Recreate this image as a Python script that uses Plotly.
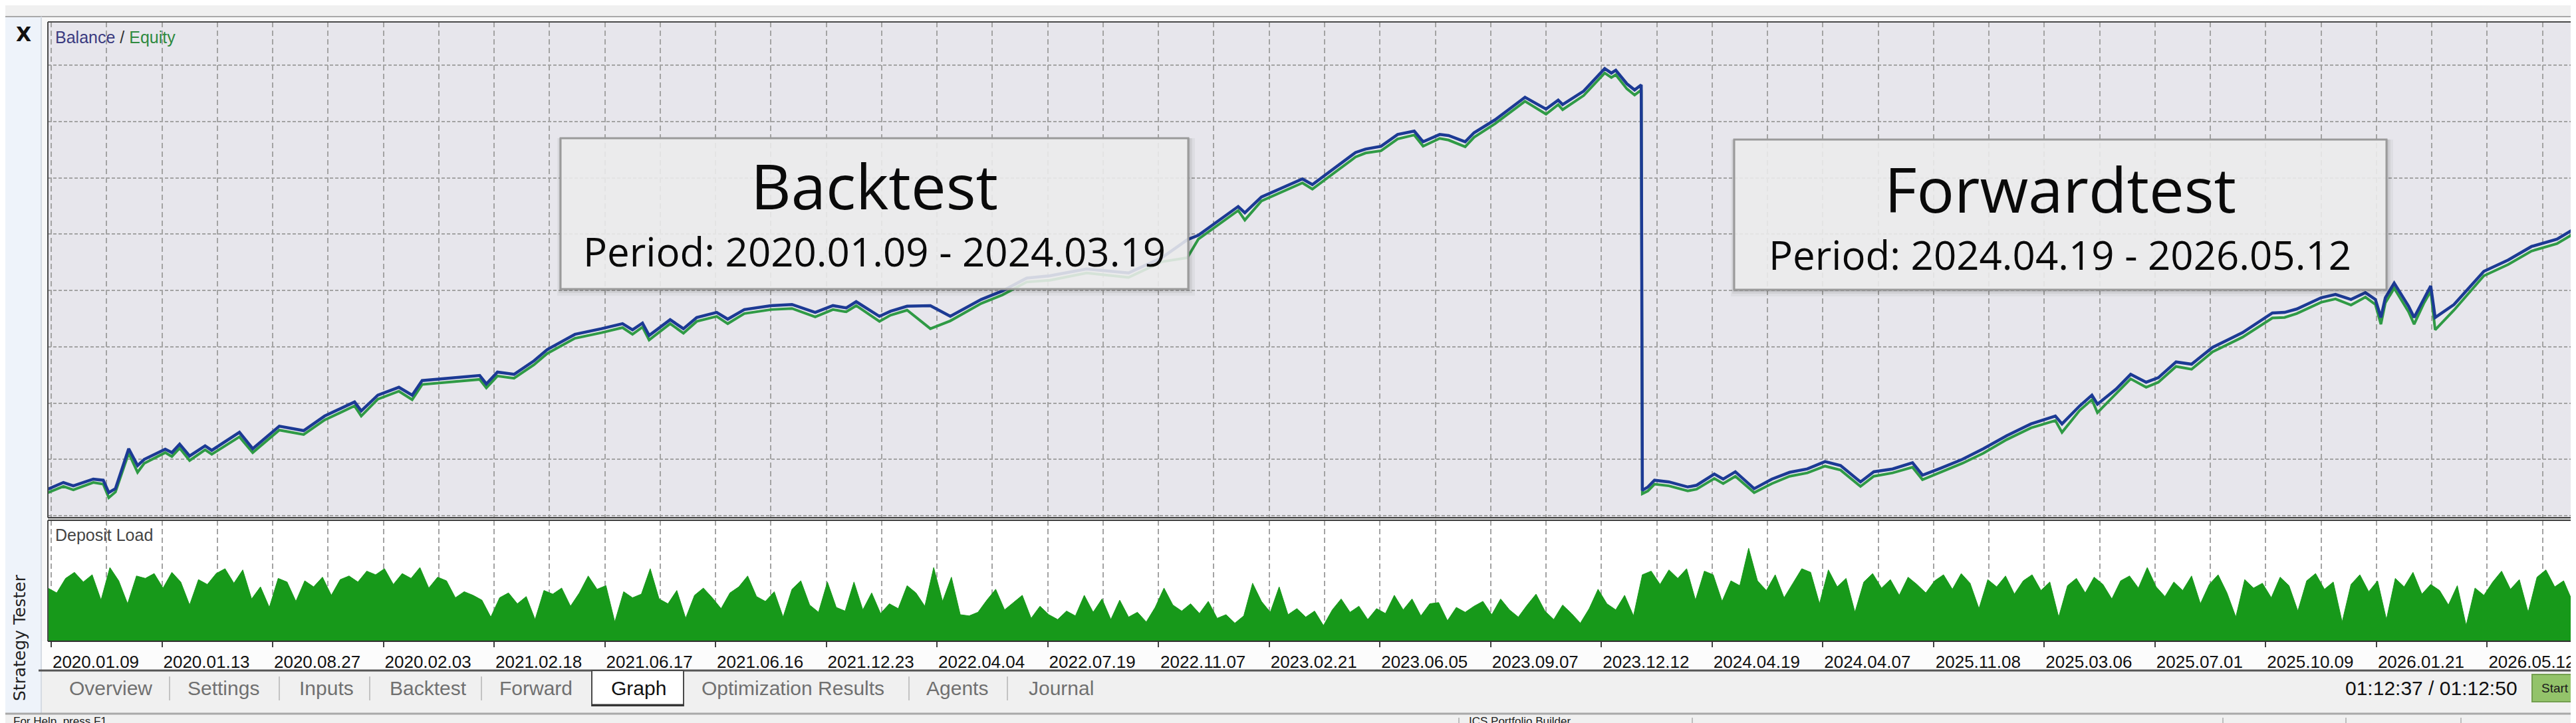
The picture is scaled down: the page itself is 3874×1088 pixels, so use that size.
import numpy as np
import plotly.graph_objects as go

WIDTH, HEIGHT = 3874, 1088

UI_FONT = "Liberation Sans"
BOX_FONT = "Open Sans"

# x axis: one label every 100 bars, dates exactly as the tester printed them
TICK_LABELS = [
    "2020.01.09", "2020.01.13", "2020.08.27", "2020.02.03", "2021.02.18",
    "2021.06.17", "2021.06.16", "2021.12.23", "2022.04.04", "2022.07.19",
    "2022.11.07", "2023.02.21", "2023.06.05", "2023.09.07", "2023.12.12",
    "2024.04.19", "2024.04.07", "2025.11.08", "2025.03.06", "2025.07.01",
    "2025.10.09", "2026.01.21", "2026.05.12",
]
TICK_VALUES = list(range(0, 2201, 100))

# balance / equity (bar number, account value)
BALANCE_X = [
    -3, 11, 20, 38, 47, 52, 58, 70, 78, 84,
    103, 109, 116, 125, 139, 145, 170, 182, 206, 228,
    247, 274, 280, 295, 314, 326, 335, 362, 387, 393,
    403, 418, 436, 448, 473, 497, 516, 525, 534, 540,
    559, 571, 583, 601, 611, 626, 650, 669, 690, 706,
    718, 727, 748, 758, 773, 794, 812, 840, 859, 881,
    902, 935, 973, 1003, 1026, 1036, 1072, 1078, 1093, 1130,
    1139, 1178, 1187, 1201, 1216, 1231, 1239, 1254, 1262, 1277,
    1285, 1304, 1331, 1350, 1361, 1365, 1384, 1403, 1409, 1413,
    1423, 1430, 1436, 1437, 1442, 1448, 1461, 1478, 1486, 1502,
    1510, 1521, 1538, 1554, 1570, 1586, 1602, 1616, 1634, 1646,
    1663, 1681, 1690, 1706, 1726, 1745, 1766, 1788, 1810, 1816,
    1832, 1843, 1848, 1865, 1878, 1892, 1903, 1919, 1933, 1952,
    1979, 2006, 2017, 2028, 2050, 2063, 2077, 2090, 2099, 2104,
    2108, 2116, 2129, 2134, 2143, 2149, 2153, 2170, 2197, 2219,
    2240, 2263, 2285,
]
BALANCE = [
    10470, 10590, 10530, 10650, 10630, 10410, 10480, 11190, 10890, 11000,
    11180, 11120, 11270, 11060, 11240, 11160, 11480, 11190, 11590, 11510,
    11770, 12020, 11860, 12140, 12280, 12140, 12400, 12450, 12490, 12340,
    12550, 12510, 12750, 12950, 13220, 13320, 13410, 13300, 13420, 13200,
    13480, 13320, 13520, 13610, 13490, 13660, 13730, 13750, 13610, 13730,
    13690, 13800, 13540, 13630, 13720, 13730, 13540, 13840, 13990, 14220,
    14260, 14380, 14310, 14580, 14900, 14980, 15490, 15380, 15660, 15980,
    15880, 16450, 16510, 16560, 16770, 16830, 16640, 16770, 16750, 16640,
    16800, 17030, 17430, 17220, 17380, 17300, 17540, 17940, 17860, 17910,
    17670, 17560, 17650, 10450, 10510, 10630, 10600, 10510, 10540, 10740,
    10650, 10780, 10480, 10650, 10770, 10830, 10960, 10890, 10600, 10780,
    10830, 10940, 10720, 10840, 11000, 11190, 11420, 11630, 11770, 11630,
    11950, 12140, 11980, 12250, 12510, 12370, 12450, 12730, 12690, 12990,
    13250, 13600, 13610, 13670, 13870, 13930, 13840, 13960, 13840, 13520,
    13870, 14130, 13720, 13520, 13870, 14080, 13520, 13750, 14340, 14540,
    14780, 14910, 15170,
]
EQUITY = [
    10410, 10520, 10460, 10590, 10560, 10320, 10420, 11110, 10770, 10930,
    11120, 11050, 11200, 10980, 11170, 11090, 11400, 11120, 11520, 11440,
    11700, 11950, 11770, 12070, 12210, 12060, 12330, 12380, 12420, 12270,
    12480, 12440, 12680, 12880, 13150, 13250, 13340, 13220, 13350, 13120,
    13410, 13240, 13450, 13540, 13410, 13590, 13660, 13680, 13530, 13660,
    13620, 13730, 13450, 13560, 13650, 13320, 13460, 13770, 13920, 14150,
    14180, 14310, 14230, 14510, 14580, 14910, 15420, 15250, 15590, 15910,
    15800, 16370, 16440, 16480, 16690, 16760, 16560, 16700, 16670, 16550,
    16720, 16960, 17360, 17130, 17300, 17210, 17460, 17860, 17780, 17830,
    17580, 17470, 17560, 10390, 10440, 10560, 10530, 10440, 10470, 10660,
    10570, 10700, 10410, 10570, 10700, 10760, 10880, 10810, 10520, 10700,
    10760, 10860, 10640, 10770, 10930, 11110, 11350, 11560, 11690, 11480,
    11870, 12060, 11830, 12170, 12430, 12280, 12370, 12650, 12600, 12910,
    13170, 13510, 13520, 13590, 13790, 13850, 13740, 13880, 13750, 13400,
    13780, 14040, 13620, 13400, 13780, 13990, 13300, 13650, 14260, 14460,
    14700, 14830, 15090,
]

# deposit load in %, one value every LOAD_STEP bars
LOAD_START = -3
LOAD_STEP = 8
DEPOSIT_LOAD = [
    44, 40, 52, 57, 49, 55, 34, 61, 50, 31, 54, 52, 56, 44, 57, 49, 30, 51, 47, 56,
    60, 48, 59, 35, 45, 28, 52, 49, 33, 50, 45, 53, 38, 51, 54, 49, 58, 55, 60, 47,
    56, 52, 61, 44, 53, 50, 36, 41,
    38, 34, 20, 36, 40, 31, 37, 18, 42, 39, 44, 29, 40, 54, 43, 46, 16, 41, 36, 39,
    60, 35, 31, 42, 19, 38, 44, 36, 27, 40, 45, 54, 37, 33, 41, 20, 43, 50,
    30, 24, 49, 28, 25, 49, 26, 40, 23, 31, 27, 46, 40, 29, 61, 33, 53, 22, 21, 24,
    34, 43, 26, 32, 38, 19, 29, 22, 18, 25, 21, 38, 24, 35, 18, 34, 20, 24, 16, 28,
    44, 30, 25, 31, 23, 33, 19, 22, 15, 21, 48, 33, 24, 45, 22, 27, 20, 25, 13, 26,
    35, 24, 29, 18, 27, 23, 38, 26, 35, 21, 31, 32, 17, 28, 24, 29, 33, 22, 35, 26,
    20, 30, 39, 25, 18, 30, 23, 15, 27, 43, 31, 26, 38, 21,
    55, 58, 47, 59, 52, 60, 34, 58, 55, 33, 50, 46, 77, 50, 42, 55, 36, 48, 60, 57,
    31, 59, 45, 52, 24, 49, 56, 44, 51, 38, 53, 47, 40, 50, 55, 43, 56, 48, 27, 51,
    45, 54, 39, 50, 55, 42, 49, 20, 46, 52, 40, 53, 47, 35, 50, 54, 44, 61, 45, 37,
    49, 42, 54, 31, 47, 55, 40, 20, 51, 44, 48, 36, 53, 46, 25, 50, 56, 43, 49, 16,
    47, 55, 41, 50, 18, 52, 45, 57, 39, 47, 42, 30, 46, 13, 44, 38, 49, 58, 43, 51,
    24, 53, 59, 45, 50, 33, 48,
]

TABS = ["Overview", "Settings", "Inputs", "Backtest", "Forward", "Graph",
        "Optimization Results", "Agents", "Journal"]

BALANCE_COLOR = "#1c3a94"
EQUITY_COLOR = "#2f9a45"
LOAD_COLOR = "#17991a"
GRID_COLOR = "#a3a3a3"


def px_x(x):
    return x / WIDTH


def px_y(y):
    return 1 - y / HEIGHT


def rect(x0, y0, x1, y1, fill="rgba(0,0,0,0)", line="rgba(0,0,0,0)", width=0, layer="below"):
    """Rectangle given in screen pixels (top-left origin)"""
    return dict(type="rect", xref="paper", yref="paper",
                x0=px_x(x0), x1=px_x(x1), y0=px_y(y1), y1=px_y(y0),
                fillcolor=fill, line=dict(color=line, width=width), layer=layer)


def hline(x0, x1, y, color, width=2, layer="above"):
    return dict(type="line", xref="paper", yref="paper",
                x0=px_x(x0), x1=px_x(x1), y0=px_y(y), y1=px_y(y),
                line=dict(color=color, width=width), layer=layer)


def vline(x, y0, y1, color, width=2, layer="above"):
    return dict(type="line", xref="paper", yref="paper",
                x0=px_x(x), x1=px_x(x), y0=px_y(y0), y1=px_y(y1),
                line=dict(color=color, width=width), layer=layer)


def label(x, y, s, size, color="#1a1a1a", family=UI_FONT, anchor="left", angle=0):
    return dict(xref="paper", yref="paper", x=px_x(x), y=px_y(y), text=s,
                showarrow=False, xanchor=anchor, yanchor="middle", textangle=angle,
                font=dict(family=family, size=size, color=color))


load_x = LOAD_START + LOAD_STEP * np.arange(len(DEPOSIT_LOAD))

fig = go.Figure()
fig.add_trace(go.Scatter(
    x=load_x, y=DEPOSIT_LOAD, mode="lines", fill="tozeroy",
    fillcolor=LOAD_COLOR, line=dict(color=LOAD_COLOR, width=1),
    xaxis="x", yaxis="y", hoverinfo="skip", showlegend=False,
))
fig.add_trace(go.Scatter(
    x=BALANCE_X, y=EQUITY, mode="lines", line=dict(color=EQUITY_COLOR, width=4),
    xaxis="x2", yaxis="y2", hoverinfo="skip", showlegend=False,
))
fig.add_trace(go.Scatter(
    x=BALANCE_X, y=BALANCE, mode="lines", line=dict(color=BALANCE_COLOR, width=4.5),
    xaxis="x2", yaxis="y2", hoverinfo="skip", showlegend=False,
))

x_domain = [64 / WIDTH, 1.0]
minor_grid = dict(tickmode="linear", tick0=0, dtick=50, showgrid=True,
                  gridcolor=GRID_COLOR, griddash="8px,5px", gridwidth=2, ticks="")

shapes = [
    # window chrome
    rect(0, 0, WIDTH, 17, fill="#f0f0f0"),
    rect(0, 17, 54, 1066, fill="#eef3fa"),
    rect(54, 17, WIDTH, 1000, fill="#f8f8f8"),
    rect(64, 24, WIDTH, 771, fill="#e7e6ec"),
    rect(64, 771, WIDTH, 775, fill="#d6d6d6"),
    rect(64, 775, WIDTH, 957, fill="#ffffff"),
    rect(54, 957, WIDTH, 1000, fill="#fcfcfc"),
    rect(54, 1000, WIDTH, 1066, fill="#f0f0f0"),
    rect(0, 1066, WIDTH, 1088, fill="#f0f0f0"),
    hline(0, WIDTH, 17, "#a9a9a9", 2),
    vline(54, 17, 1066, "#d5dbe3", 2),
    # chart frames
    hline(64, WIDTH, 25, "#4a4a4a", 2),
    vline(64, 25, 771, "#4a4a4a", 2),
    vline(64, 775, 957, "#4a4a4a", 2),
    hline(64, WIDTH, 771, "#404040", 2),
    hline(64, WIDTH, 775, "#404040", 2),
    hline(64, WIDTH, 957, "#303030", 2),
    # tab strip
    hline(50, WIDTH, 1001, "#555555", 3),
    rect(882, 1001, 1020, 1054, fill="#ffffff", line="#4a4a4a", width=2, layer="above"),
    hline(882, 1020, 1053, "#333333", 3),
    hline(0, WIDTH, 1066, "#a8a8a8", 3),
    rect(3800, 1007, 3890, 1048, fill="#93c36a", line="#739f4f", width=2, layer="above"),
]
for sep in [247, 412, 548, 716, 1359, 1507]:
    shapes.append(vline(sep, 1010, 1046, "#b5b5b5", 1.5))
for sep in [2186, 2537, 3335, 3520, 3693]:
    shapes.append(vline(sep, 1072, 1088, "#bdbdbd", 2))

# the two period boxes, with a soft shadow
boxes = [(835, 200, 1779, 427), (2600, 202, 3581, 428)]
for x0, y0, x1, y1 in boxes:
    for off, alpha in [(10, 0.04), (6, 0.06), (3, 0.08)]:
        shapes.append(rect(x0 - off / 2, y0, x1 + off, y1 + off,
                           fill=f"rgba(0,0,0,{alpha})", layer="above"))
    shapes.append(rect(x0, y0, x1, y1, fill="rgba(242,242,242,0.86)",
                       line="#9a9a9a", width=3, layer="above"))

tab_left = [94, 272, 440, 576, 741, 909, 1045, 1383, 1537]
annotations = [
    label(27, 43, "<b>X</b>", 30, color="#111111", family="DejaVu Sans", anchor="center"),
    label(21, 952, "Strategy Tester", 25, color="#222222", family="DejaVu Sans",
          anchor="center", angle=-90),
    label(73, 48, "<span style='color:#3b3b80'>Balance</span> / "
                  "<span style='color:#2f8a40'>Equity</span>", 25, color="#333333"),
    label(73, 797, "Deposit Load", 25, color="#444444"),
    label(1307, 271, "Backtest", 94, color="#0a0a0a", family=BOX_FONT, anchor="center"),
    label(1307, 370, "Period: 2020.01.09 - 2024.03.19", 60, color="#0a0a0a",
          family=BOX_FONT, anchor="center"),
    label(3090, 276, "Forwardtest", 94, color="#0a0a0a", family=BOX_FONT, anchor="center"),
    label(3090, 375, "Period: 2024.04.19 - 2026.05.12", 60, color="#0a0a0a",
          family=BOX_FONT, anchor="center"),
    label(3780, 1027, "01:12:37 / 01:12:50", 30, color="#111111", anchor="right"),
    label(3812, 1027, "Start", 19, color="#1a1a1a"),
    label(10, 1077, "For Help, press F1", 17, color="#222222"),
    label(2199, 1077, "ICS Portfolio Builder", 17, color="#222222"),
]
for name, left in zip(TABS, tab_left):
    color = "#111111" if name == "Graph" else "#707070"
    annotations.append(label(left, 1027, name, 30, color=color))

fig.update_layout(
    width=WIDTH,
    height=HEIGHT,
    margin=dict(l=0, r=0, t=0, b=0),
    paper_bgcolor="#f0f0f0",
    plot_bgcolor="rgba(0,0,0,0)",
    showlegend=False,
    hovermode=False,
    shapes=shapes,
    annotations=annotations,
    xaxis=dict(
        domain=x_domain, anchor="y", range=[-3, 2285],
        tickmode="array", tickvals=TICK_VALUES, ticktext=TICK_LABELS,
        ticks="outside", ticklen=8, tickwidth=2, tickcolor="#404040",
        ticklabelshift=67,
        tickfont=dict(family=UI_FONT, size=26, color="#111111"),
        showgrid=True, gridcolor=GRID_COLOR, griddash="8px,5px", gridwidth=2,
        minor=minor_grid, zeroline=False, showline=False,
    ),
    xaxis2=dict(
        domain=x_domain, anchor="y2", matches="x",
        tickmode="array", tickvals=TICK_VALUES, showticklabels=False, ticks="",
        showgrid=True, gridcolor=GRID_COLOR, griddash="8px,5px", gridwidth=2,
        minor=minor_grid, zeroline=False, showline=False,
    ),
    yaxis=dict(
        domain=[1 - 957 / HEIGHT, 1 - 775 / HEIGHT], range=[0, 100],
        showgrid=False, showticklabels=False, zeroline=False, ticks="",
    ),
    yaxis2=dict(
        domain=[1 - 771 / HEIGHT, 1 - 25 / HEIGHT], range=[9965, 18768],
        tick0=0, dtick=1000, showgrid=True, gridcolor=GRID_COLOR,
        griddash="5px,3px", gridwidth=2,
        showticklabels=False, zeroline=False, ticks="",
    ),
)

fig.write_html("out.html")
